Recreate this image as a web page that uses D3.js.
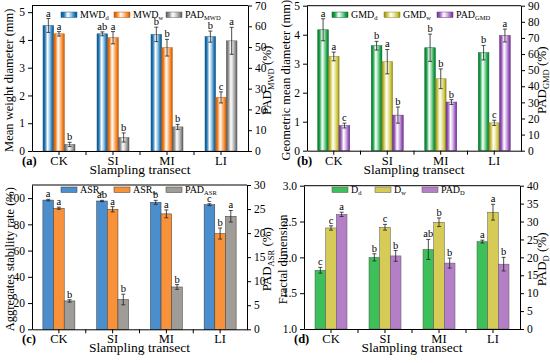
<!DOCTYPE html>
<html>
<head>
<meta charset="utf-8">
<script src="https://cdn.jsdelivr.net/npm/d3@7"></script>
<style>
	body { margin: 0; background: #fff; }
	svg { font-family: "Liberation Serif", "Times New Roman", serif; }
</style>
</head>
<body>
<div id="chart"></div>
<script>
(function () {
	"use strict";

	var categories = ["CK", "SI", "MI", "LI"];

	// (a) mean weight diameter
	var mwdD = [4.52, 4.22, 4.20, 4.12], mwdDErr = [0.25, 0.07, 0.26, 0.20], mwdDLet = ["a", "ab", "b", "b"];
	var mwdW = [4.22, 4.08, 3.72, 1.93], mwdWErr = [0.08, 0.22, 0.30, 0.20], mwdWLet = ["a", "a", "b", "c"];
	var padMwd = [3.2, 6.5, 11.6, 53.0], padMwdErr = [1.0, 2.2, 1.2, 6.5], padMwdLet = ["b", "b", "b", "a"];

	// (b) geometric mean diameter
	var gmdD = [4.17, 3.62, 3.55, 3.38], gmdDErr = [0.38, 0.15, 0.47, 0.25], gmdDLet = ["a", "b", "b", "b"];
	var gmdW = [3.25, 3.07, 2.48, 0.96], gmdWErr = [0.15, 0.42, 0.34, 0.09], gmdWLet = ["a", "a", "b", "c"];
	var padGmd = [15.6, 22.1, 30.2, 71.5], padGmdErr = [1.5, 5.0, 1.5, 4.0], padGmdLet = ["c", "b", "b", "a"];

	// (c) aggregates stability rate
	var asrD = [98.5, 97.8, 96.8, 95.0], asrDErr = [0.6, 0.5, 1.5, 0.7], asrDLet = ["a", "ab", "b", "c"];
	var asrW = [92.3, 91.5, 88.0, 73.0], asrWErr = [0.8, 2.0, 3.0, 4.2], asrWLet = ["a", "a", "a", "b"];
	var padAsr = [5.9, 6.2, 8.8, 23.5], padAsrErr = [0.25, 1.1, 0.5, 1.2], padAsrLet = ["b", "b", "b", "a"];

	// (d) fractal dimension
	var dD = [1.82, 2.00, 2.11, 2.22], dDErr = [0.04, 0.05, 0.14, 0.02], dDLet = ["c", "b", "ab", "a"];
	var dW = [2.41, 2.42, 2.49, 2.63], dWErr = [0.03, 0.04, 0.06, 0.11], dWLet = ["c", "c", "b", "a"];
	var padD = [32.0, 20.4, 18.4, 18.1], padDErr = [0.6, 1.5, 1.4, 1.9], padDLet = ["a", "b", "b", "b"];

	var svg = d3.select("#chart").append("svg")
		.attr("width", 550)
		.attr("height", 363);
	var defs = svg.append("defs");

	// cylinder-like gradients for panels a and b
	function gradient(id, dark, base, light) {
		var g = defs.append("linearGradient").attr("id", id)
			.attr("x1", "0%").attr("x2", "100%").attr("y1", "0%").attr("y2", "0%");
		[[0, dark], [0.18, base], [0.42, "#ffffff"], [0.62, light], [0.85, base], [1, dark]].forEach(function (s) {
			g.append("stop").attr("offset", s[0]).attr("stop-color", s[1]);
		});
		return "url(#" + id + ")";
	}

	var gBlue = gradient("gBlue", "#145485", "#1f78b8", "#9fcbe8"),
		gOrange = gradient("gOrange", "#c45a0a", "#f5801c", "#fbc28f"),
		gGray = gradient("gGray", "#5a5a5a", "#8d8d8d", "#d0d0d0"),
		gGreen = gradient("gGreen", "#0c7030", "#1aa64a", "#97dba9"),
		gYellow = gradient("gYellow", "#8e8722", "#c9c23a", "#ebe7a6"),
		gPurple = gradient("gPurple", "#6a3788", "#9c5cc0", "#d9bde8");

	function series(main, sub, values, errs, letters, axis, fill, stroke) {
		return {main: main, sub: sub, values: values, errs: errs, letters: letters, axis: axis, fill: fill, stroke: stroke};
	}

	var panels = [
		{
			tag: "(a)", x0: 32, x1: 248, y0: 5.5, y1: 151,
			left: [0, 5.24], leftTicks: [0, 1, 2, 3, 4, 5], leftFmt: d3.format("d"),
			right: [0, 70], rightTicks: d3.range(0, 71, 10),
			leftTitle: "Mean weight diameter (mm)", leftTitleX: 13, rightSub: "MWD", rightTitleX: 271,
			legendX: [61, 114, 166], legendY: 12,
			series: [
				series("MWD", "d", mwdD, mwdDErr, mwdDLet, "left", gBlue, "#1b5e8f"),
				series("MWD", "w", mwdW, mwdWErr, mwdWLet, "left", gOrange, "#b8560c"),
				series("PAD", "MWD", padMwd, padMwdErr, padMwdLet, "right", gGray, "#5e5e5e")
			]
		},
		{
			tag: "(b)", x0: 307, x1: 521, y0: 5.7, y1: 150.7,
			left: [0, 5], leftTicks: [0, 1, 2, 3, 4, 5], leftFmt: d3.format("d"),
			right: [0, 90], rightTicks: d3.range(0, 91, 10),
			leftTitle: "Geometric mean diameter (mm)", leftTitleX: 290, rightSub: "GMD", rightTitleX: 546,
			legendX: [332, 384, 437], legendY: 12,
			series: [
				series("GMD", "d", gmdD, gmdDErr, gmdDLet, "left", gGreen, "#0f6f30"),
				series("GMD", "w", gmdW, gmdWErr, gmdWLet, "left", gYellow, "#8a8424"),
				series("PAD", "GMD", padGmd, padGmdErr, padGmdLet, "right", gPurple, "#643384")
			]
		},
		{
			tag: "(c)", x0: 32, x1: 247, y0: 185, y1: 329.3,
			left: [0, 110], leftTicks: d3.range(0, 101, 20), leftFmt: d3.format("d"),
			right: [0, 30], rightTicks: d3.range(0, 31, 5),
			leftTitle: "Aggregates stability rate (%)", leftTitleX: 14, rightSub: "ASR", rightTitleX: 271,
			legendX: [61, 114, 166], legendY: 187,
			series: [
				series("ASR", "d", asrD, asrDErr, asrDLet, "left", "#4a8ecd", "#3a3a3a"),
				series("ASR", "w", asrW, asrWErr, asrWLet, "left", "#f7913a", "#3a3a3a"),
				series("PAD", "ASR", padAsr, padAsrErr, padAsrLet, "right", "#a09c97", "#3a3a3a")
			]
		},
		{
			tag: "(d)", x0: 304, x1: 520, y0: 185.7, y1: 329,
			left: [1, 3], leftTicks: [1, 1.5, 2, 2.5, 3], leftFmt: d3.format(".1f"),
			right: [0, 40], rightTicks: d3.range(0, 41, 5),
			leftTitle: "Fractal dimension", leftTitleX: 287, rightSub: "D", rightTitleX: 546,
			legendX: [332, 375, 422], legendY: 187,
			series: [
				series("D", "d", dD, dDErr, dDLet, "left", "#3dbf5a", "#555"),
				series("D", "w", dW, dWErr, dWLet, "left", "#d5cb56", "#555"),
				series("PAD", "D", padD, padDErr, padDLet, "right", "#b57fc8", "#555")
			]
		}
	];

	function drawPanel(p) {
		var g = svg.append("g"),
			x = d3.scaleBand().domain(categories).range([p.x0, p.x1]),
			inner = d3.scaleBand().domain([0, 1, 2]).range([-16, 16]),
			yL = d3.scaleLinear().domain(p.left).range([p.y1, p.y0]),
			yR = d3.scaleLinear().domain(p.right).range([p.y1, p.y0]);

		// bars, error bars and letters
		p.series.forEach(function (s, si) {
			var y = s.axis === "left" ? yL : yR,
				base = y.domain()[0];
			categories.forEach(function (c, i) {
				var bx = x(c) + x.bandwidth() / 2 + inner(si),
					bw = inner.bandwidth(),
					v = s.values[i], e = s.errs[i],
					cx = bx + bw / 2;
				g.append("rect")
					.attr("x", bx).attr("width", bw)
					.attr("y", y(v)).attr("height", y(base) - y(v))
					.attr("fill", s.fill)
					.attr("stroke", s.stroke).attr("stroke-width", 0.5);
				g.append("line")
					.attr("x1", cx).attr("x2", cx)
					.attr("y1", y(v - e)).attr("y2", y(v + e))
					.attr("stroke", "#222").attr("stroke-width", 0.8);
				[v - e, v + e].forEach(function (t) {
					g.append("line")
						.attr("x1", cx - 2).attr("x2", cx + 2)
						.attr("y1", y(t)).attr("y2", y(t))
						.attr("stroke", "#222").attr("stroke-width", 0.8);
				});
				g.append("text")
					.attr("x", cx).attr("y", y(v + e) - 2)
					.attr("text-anchor", "middle")
					.attr("font-size", 10.5)
					.text(s.letters[i]);
			});
		});

		// frame and axes
		g.append("line")
			.attr("x1", p.x0).attr("x2", p.x1).attr("y1", p.y0).attr("y2", p.y0)
			.attr("stroke", "#000");

		var axL = g.append("g").attr("transform", "translate(" + p.x0 + ",0)")
			.call(d3.axisLeft(yL).tickValues(p.leftTicks).tickFormat(p.leftFmt).tickSize(4).tickSizeOuter(0));
		var axR = g.append("g").attr("transform", "translate(" + p.x1 + ",0)")
			.call(d3.axisRight(yR).tickValues(p.rightTicks).tickSize(4).tickSizeOuter(0));
		var axB = g.append("g").attr("transform", "translate(0," + p.y1 + ")")
			.call(d3.axisBottom(x).tickSize(4).tickSizeOuter(0).tickPadding(1));
		categories.slice(1).forEach(function (c) {
			axB.append("line").attr("x1", x(c)).attr("x2", x(c)).attr("y1", 0).attr("y2", 4)
				.attr("stroke", "#000");
		});
		[axL, axR, axB].forEach(function (a) {
			a.selectAll("text").attr("fill", "#000");
			a.attr("font-family", null);
		});
		axL.selectAll("text").attr("font-size", 11.5);
		axR.selectAll("text").attr("font-size", 11.5);
		axB.selectAll("text").attr("font-size", 12.5);

		// panel tag
		g.append("text")
			.attr("x", p.x0 - 10).attr("y", p.y1 + 14)
			.attr("font-size", 12.5).attr("font-weight", "bold")
			.text(p.tag);

		// axis titles
		g.append("text")
			.attr("x", (p.x0 + p.x1) / 2).attr("y", p.y1 + 23)
			.attr("text-anchor", "middle").attr("font-size", 13.5)
			.text("Slampling transect");
		var yc = (p.y0 + p.y1) / 2 + 2;
		g.append("text")
			.attr("transform", "translate(" + p.leftTitleX + "," + yc + ") rotate(-90)")
			.attr("text-anchor", "middle").attr("font-size", 12.5)
			.text(p.leftTitle);
		var rt = g.append("text")
			.attr("transform", "translate(" + p.rightTitleX + "," + yc + ") rotate(-90)")
			.attr("text-anchor", "middle").attr("font-size", 13);
		rt.append("tspan").text("PAD");
		rt.append("tspan").attr("baseline-shift", -3).attr("font-size", 8.5).text(p.rightSub);
		rt.append("tspan").text(" (%)");

		// legend
		p.series.forEach(function (s, si) {
			var lx = p.legendX[si], ly = p.legendY;
			g.append("rect")
				.attr("x", lx).attr("y", ly).attr("width", 16).attr("height", 5.5)
				.attr("fill", s.fill).attr("stroke", s.stroke).attr("stroke-width", 0.5);
			var t = g.append("text")
				.attr("x", lx + 19).attr("y", ly + 6)
				.attr("font-size", 10);
			t.append("tspan").text(s.main);
			t.append("tspan").attr("baseline-shift", -2).attr("font-size", 6.5).text(s.sub);
		});
	}

	panels.forEach(drawPanel);
})();
</script>
</body>
</html>
